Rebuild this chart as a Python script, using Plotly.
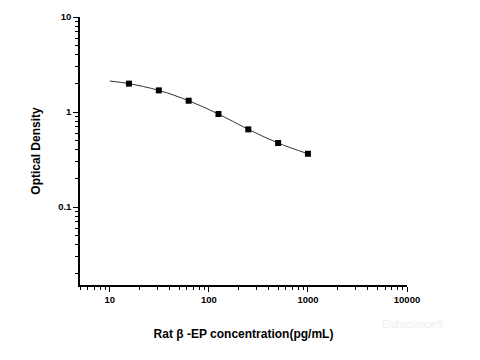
import plotly.graph_objects as go

conc = [15.6, 31.25, 62.5, 125, 250, 500, 1000]
od = [1.99, 1.69, 1.315, 0.953, 0.657, 0.472, 0.364]
curve_x = [10, 15.6, 31.25, 62.5, 125, 250, 500, 1000]
curve_y = [2.12, 1.99, 1.69, 1.315, 0.953, 0.657, 0.472, 0.364]
x_ticks = [10, 100, 1000, 10000]
y_ticks = [0.1, 1, 10]

font = "Liberation Sans, Arial, sans-serif"

fig = go.Figure()
fig.add_trace(go.Scatter(x=curve_x, y=curve_y, mode="lines",
                         line=dict(color="#333333", width=1, shape="spline"),
                         hoverinfo="skip", showlegend=False))
fig.add_trace(go.Scatter(x=conc, y=od, mode="markers",
                         marker=dict(symbol="square", size=6, color="black"),
                         showlegend=False))

fig.update_layout(
    width=472, height=352,
    margin=dict(l=72, r=73, t=9, b=75),
    paper_bgcolor="white", plot_bgcolor="white",
    font=dict(family=font, size=10, color="black"),
    xaxis=dict(type="log", range=[0.699, 4], showgrid=False, zeroline=False,
               automargin=False,
               showline=True, linecolor="black", linewidth=1.5,
               ticks="outside", ticklen=5, tickwidth=1.2, tickcolor="black",
               tickvals=x_ticks, ticktext=["<b>%g</b>" % v for v in x_ticks],
               tickfont=dict(family=font, size=9.5),
               minor=dict(ticks="outside", ticklen=3, tickwidth=1, tickcolor="black",
                          tickvals=[5, 6, 7, 8, 9, 20, 30, 40, 50, 60, 70, 80, 90,
                                    200, 300, 400, 500, 600, 700, 800, 900,
                                    2000, 3000, 4000, 5000, 6000, 7000, 8000, 9000]),
               title=dict(text="<b>Rat β -EP concentration(pg/mL)</b>",
                          font=dict(family=font, size=12), standoff=25)),
    yaxis=dict(type="log", range=[-1.82, 1], showgrid=False, zeroline=False,
               automargin=False,
               showline=True, linecolor="black", linewidth=1.5,
               ticks="outside", ticklen=5, tickwidth=1.2, tickcolor="black",
               tickvals=y_ticks, ticktext=["<b>%g</b>" % v for v in y_ticks],
               tickfont=dict(family=font, size=9.5),
               minor=dict(ticks="outside", ticklen=3, tickwidth=1, tickcolor="black",
                          tickvals=[0.02, 0.03, 0.04, 0.05, 0.06, 0.07, 0.08, 0.09,
                                    0.2, 0.3, 0.4, 0.5, 0.6, 0.7, 0.8, 0.9,
                                    2, 3, 4, 5, 6, 7, 8, 9]),
               title=dict(text="<b>Optical Density</b>",
                          font=dict(family=font, size=12), standoff=15)),
)
fig.add_annotation(text="Elabscience®", xref="paper", yref="paper",
                   x=1.12, y=-0.175, showarrow=False,
                   font=dict(family=font, size=10, color="#eeeeee"))

fig.write_html("out.html")
